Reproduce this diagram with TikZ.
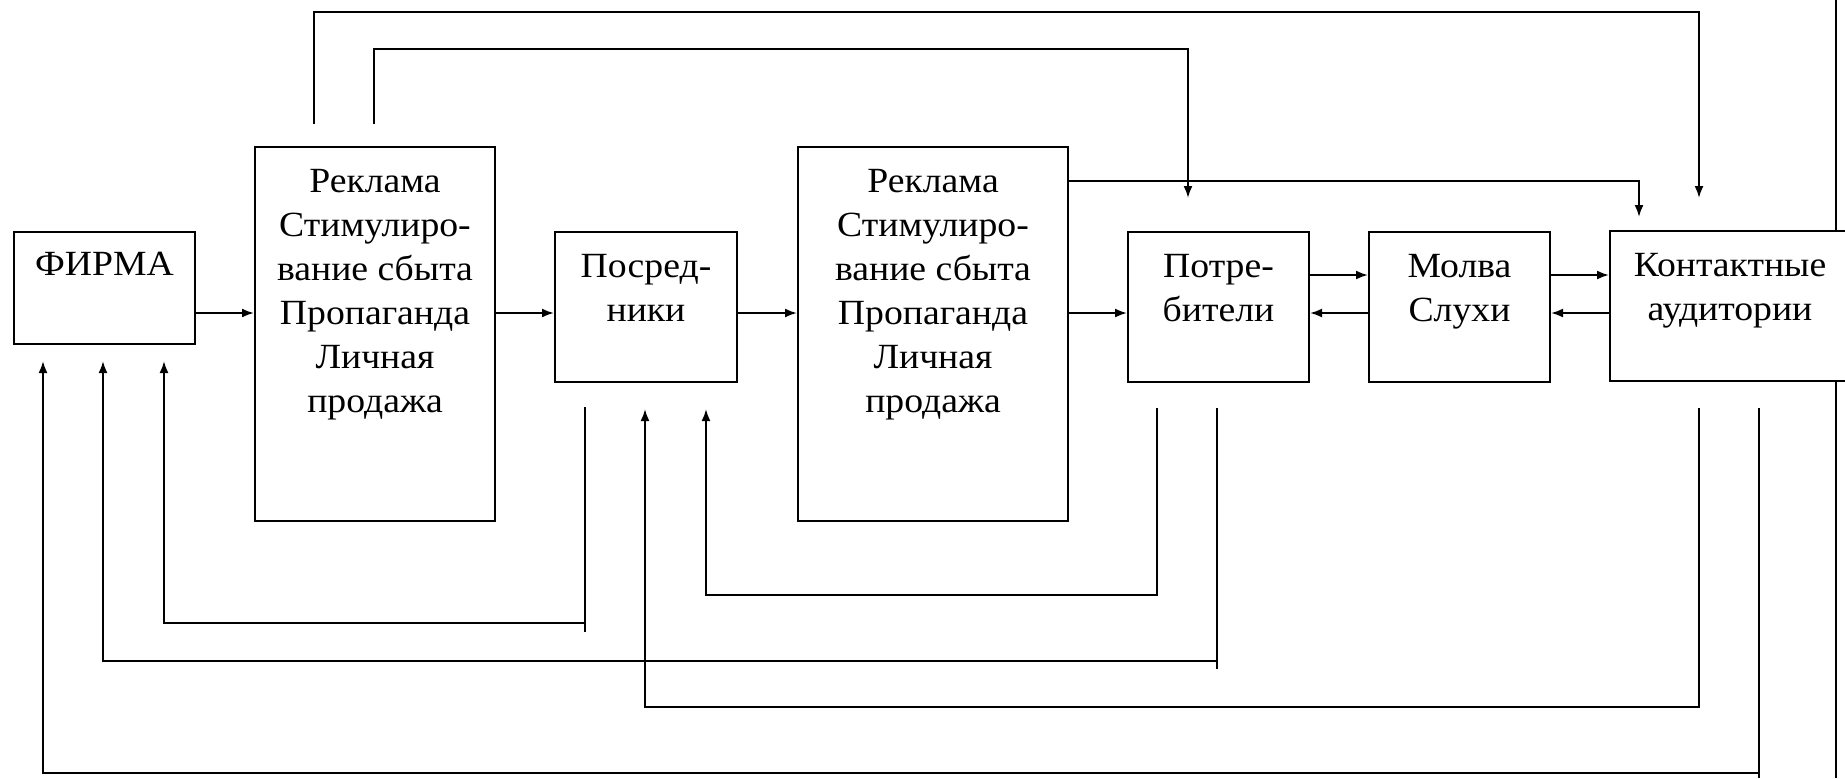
\documentclass[tikz,border=0pt]{standalone}
\usepackage{fontspec}
\setmainfont[FakeStretch=1.065]{Liberation Serif}
\usetikzlibrary{arrows.meta}
\begin{document}
\begin{tikzpicture}[x=0.5pt,y=-0.5pt,
  box/.style={draw=black,line width=1pt,fill=white,rectangle,inner sep=0pt,anchor=north west},
  txt/.style={inner sep=0pt,anchor=base,font=\fontsize{17.7}{22}\selectfont},
  ln/.style={line width=1pt},
  arr/.style={line width=1pt,-{Latex[length=6pt,width=4.5pt]}}]
\useasboundingbox (0,0) rectangle (1845,778);
% long line on the right edge (under the last box)
\coordinate (rtop) at (1836,0);
\coordinate (rbot) at (1836,778);
\draw[ln] (rtop) -- (rbot);
% boxes
\node[box,minimum width=90.5pt,minimum height=56pt] (firma) at (13,231) {};
\node[box,minimum width=120pt,minimum height=187pt] (r1) at (254,146) {};
\node[box,minimum width=91pt,minimum height=75pt] (posr) at (554,231) {};
\node[box,minimum width=135pt,minimum height=187pt] (r2) at (797,146) {};
\node[box,minimum width=90.5pt,minimum height=75pt] (potr) at (1127,231) {};
\node[box,minimum width=90.5pt,minimum height=75pt] (molva) at (1368,231) {};
\node[box,minimum width=120pt,minimum height=75pt] (kont) at (1609,230) {};
% texts
\node[txt] (firmaT) at ([yshift=-22pt]firma.north) {\parbox[t]{88pt}{\centering ФИРМА}};
\node[txt] (r1T) at ([yshift=-23pt]r1.north) {\parbox[t]{118pt}{\centering Реклама\\Стимулиро-\\вание сбыта\\Пропаганда\\Личная\\продажа}};
\node[txt] (posrT) at ([yshift=-23pt]posr.north) {\parbox[t]{88pt}{\centering Посред-\\ники}};
\node[txt] (r2T) at ([yshift=-23pt]r2.north) {\parbox[t]{130pt}{\centering Реклама\\Стимулиро-\\вание сбыта\\Пропаганда\\Личная\\продажа}};
\node[txt] (potrT) at ([yshift=-23pt]potr.north) {\parbox[t]{88pt}{\centering Потре-\\бители}};
\node[txt] (molvaT) at ([yshift=-23pt]molva.north) {\parbox[t]{88pt}{\centering Молва\\Слухи}};
\node[txt] (kontT) at ([yshift=-23pt]kont.north) {\parbox[t]{118pt}{\centering Контактные\\аудитории}};
% levels
\coordinate (ya) at (0,313);
\coordinate (yb) at (0,275);
% forward chain
\draw[arr] (firma.east |- ya) -- (r1.west |- ya);
\draw[arr] (r1.east |- ya) -- (posr.west |- ya);
\draw[arr] (posr.east |- ya) -- (r2.west |- ya);
\draw[arr] (r2.east |- ya) -- (potr.west |- ya);
\draw[arr] (potr.east |- yb) -- (molva.west |- yb);
\draw[arr] (molva.west |- ya) -- (potr.east |- ya);
\draw[arr] (molva.east |- yb) -- (kont.west |- yb);
\draw[arr] (kont.west |- ya) -- (molva.east |- ya);
% top connectors
\coordinate (a1) at (314,124); \coordinate (a1e) at (1699,198);
\draw[arr] (a1) -- (314,12) -| (a1e);
\coordinate (a2) at (374,124); \coordinate (a2e) at (1188,198);
\draw[arr] (a2) -- (374,49) -| (a2e);
\coordinate (a3e) at (1639,217);
\draw[arr] (r2.east |- 0,181) -| (a3e);
% bottom feedback connectors
\coordinate (f1) at (43,361);
\coordinate (f2) at (103,361);
\coordinate (f3) at (164,361);
\coordinate (p1) at (645,409);
\coordinate (p2) at (706,409);
\coordinate (b1s) at (585,407); \coordinate (b1e) at (585,632);
\draw[ln] (b1s) -- (b1e);
\draw[arr] (585,623) -| (f3);
\coordinate (b2s) at (1217,408); \coordinate (b2e) at (1217,669);
\draw[ln] (b2s) -- (b2e);
\draw[arr] (1217,661) -| (f2);
\coordinate (b3s) at (1157,408);
\draw[arr] (b3s) |- (706,595) -- (p2);
\coordinate (b4s) at (1699,408);
\draw[arr] (b4s) |- (645,707) -- (p1);
\coordinate (b5s) at (1759,408); \coordinate (b5e) at (1759,778);
\draw[ln] (b5s) -- (b5e);
\draw[arr] (1759,773) -| (f1);
\end{tikzpicture}
\end{document}
